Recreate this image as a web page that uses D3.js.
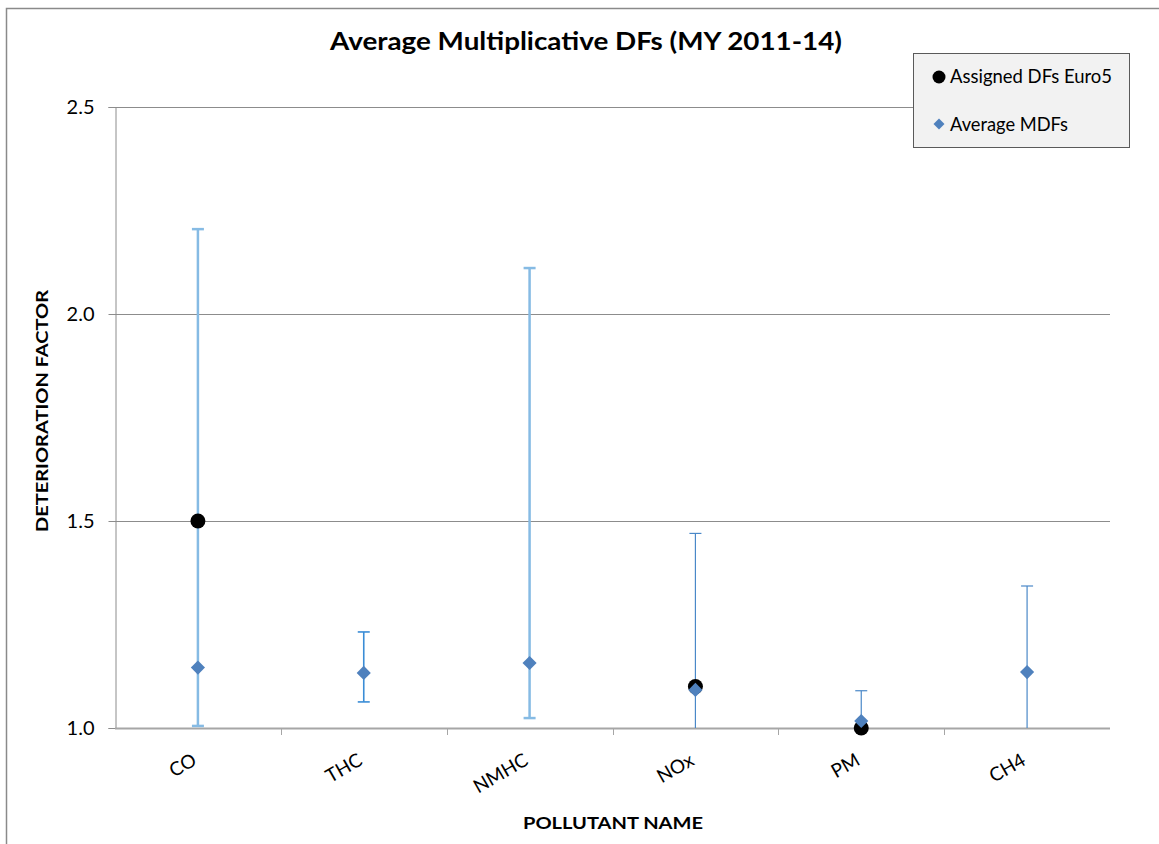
<!DOCTYPE html>
<html>
<head>
<meta charset="utf-8">
<title>Average Multiplicative DFs</title>
<script src="https://d3js.org/d3.v7.min.js"></script>
<style>
  body { margin: 0; background: #fff; }
  svg text { font-family: Lato, "Open Sans", "Noto Sans", sans-serif; fill: #000; }
</style>
</head>
<body>
<div id="chart"></div>
<script>
// data
var pollutants = ["CO", "THC", "NMHC", "NOx", "PM", "CH4"];
var assignedDF = [1.5, null, null, 1.1, 1.0, null];           // Assigned DFs Euro5
var averageMDF = [1.146, 1.133, 1.157, 1.092, 1.017, 1.135];  // Average MDFs
var errHigh    = [2.205, 1.232, 2.111, 1.47, 1.09, 1.343];
var errLow     = [1.005, 1.063, 1.024, 1.0, 1.0, 1.0];
var yTicks     = [1.0, 1.5, 2.0, 2.5];

// error bar look per category (the original chart mixes two styles)
var errStyle = {
  CO:   { stroke: "#86bbe4", width: 2.5 },
  THC:  { stroke: "#3a8cd6", width: 1.6 },
  NMHC: { stroke: "#86bbe4", width: 2.5 },
  NOx:  { stroke: "#4a88c8", width: 1.2 },
  PM:   { stroke: "#4a88c8", width: 1.2 },
  CH4:  { stroke: "#4a88c8", width: 1.2 }
};

var W = 1159, H = 844;
var svg = d3.select("#chart").append("svg").attr("width", W).attr("height", H);

// outer chart border (runs off the right and bottom of the picture)
svg.append("rect").attr("x", 6.5).attr("y", 8.5).attr("width", W + 20).attr("height", H + 20)
  .attr("fill", "#fff").attr("stroke", "#8a8a8a").attr("stroke-width", 1.5);

var x = d3.scaleBand().domain(pollutants).range([115, 1110]);
var y = d3.scaleLinear().domain([1.0, 2.5]).range([728, 107]);

// gridlines
svg.append("g").selectAll("line").data(yTicks.slice(1)).enter().append("line")
  .attr("x1", 115).attr("x2", 1110)
  .attr("y1", function(d){ return Math.round(y(d)) + 0.5; })
  .attr("y2", function(d){ return Math.round(y(d)) + 0.5; })
  .attr("stroke", "#8c8c8c").attr("stroke-width", 1);

// y axis
var yAxis = svg.append("g").attr("transform", "translate(115.5,0)")
  .call(d3.axisLeft(y).tickValues(yTicks).tickFormat(d3.format(".1f")).tickSize(7).tickPadding(14));
yAxis.select(".domain").attr("stroke", "#8c8c8c");
yAxis.selectAll(".tick line").attr("stroke", "#8c8c8c");
yAxis.selectAll(".tick text").style("font-size", "20px").attr("fill", "#000");

// x axis with ticks on category boundaries
var xAxis = svg.append("g").attr("transform", "translate(0,728)");
xAxis.append("line").attr("x1", 115).attr("x2", 1110).attr("y1", 0.5).attr("y2", 0.5)
  .attr("stroke", "#a6a6a6").attr("stroke-width", 2);
xAxis.selectAll("line.bnd").data(pollutants.slice(1)).enter().append("line")
  .attr("class", "bnd")
  .attr("x1", function(d){ return Math.round(x(d)) + 0.5; })
  .attr("x2", function(d){ return Math.round(x(d)) + 0.5; })
  .attr("y1", 0).attr("y2", 7).attr("stroke", "#a6a6a6");
xAxis.selectAll("text").data(pollutants).enter().append("text")
  .attr("transform", function(d){ return "translate(" + (x(d) + x.bandwidth() / 2) + ",36) rotate(-30)"; })
  .attr("text-anchor", "end")
  .style("font-size", "19px")
  .text(function(d){ return d; });

// error bars
var eb = svg.append("g").selectAll("g").data(pollutants).enter().append("g");
eb.append("line")
  .attr("x1", function(d){ return x(d) + x.bandwidth() / 2; })
  .attr("x2", function(d){ return x(d) + x.bandwidth() / 2; })
  .attr("y1", function(d, i){ return y(errHigh[i]); })
  .attr("y2", function(d, i){ return y(errLow[i]); })
  .attr("stroke", function(d){ return errStyle[d].stroke; })
  .attr("stroke-width", function(d){ return errStyle[d].width; });
eb.append("line")
  .attr("x1", function(d){ return x(d) + x.bandwidth() / 2 - 6; })
  .attr("x2", function(d){ return x(d) + x.bandwidth() / 2 + 6; })
  .attr("y1", function(d, i){ return y(errHigh[i]); })
  .attr("y2", function(d, i){ return y(errHigh[i]); })
  .attr("stroke", function(d){ return errStyle[d].stroke; })
  .attr("stroke-width", function(d){ return errStyle[d].width; });
eb.filter(function(d, i){ return errLow[i] > 1.0; }).append("line")
  .attr("x1", function(d){ return x(d) + x.bandwidth() / 2 - 6; })
  .attr("x2", function(d){ return x(d) + x.bandwidth() / 2 + 6; })
  .attr("y1", function(d){ return y(errLow[pollutants.indexOf(d)]); })
  .attr("y2", function(d){ return y(errLow[pollutants.indexOf(d)]); })
  .attr("stroke", function(d){ return errStyle[d].stroke; })
  .attr("stroke-width", function(d){ return errStyle[d].width; });

// assigned DFs (black circles)
svg.append("g").selectAll("circle")
  .data(pollutants.filter(function(d, i){ return assignedDF[i] != null; }))
  .enter().append("circle")
  .attr("cx", function(d){ return x(d) + x.bandwidth() / 2; })
  .attr("cy", function(d){ return y(assignedDF[pollutants.indexOf(d)]); })
  .attr("r", 7.5).attr("fill", "#000");

// average MDFs (blue diamonds)
var diamond = d3.symbol().type(d3.symbolSquare).size(100);
svg.append("g").selectAll("path").data(pollutants).enter().append("path")
  .attr("d", diamond)
  .attr("transform", function(d, i){ return "translate(" + (x(d) + x.bandwidth() / 2) + "," + y(averageMDF[i]) + ") rotate(45)"; })
  .attr("fill", "#4f81bd");

// title and axis titles
svg.append("text").attr("x", 586).attr("y", 50).attr("text-anchor", "middle")
  .style("font-size", "24px").style("font-weight", "bold")
  .attr("textLength", 512).attr("lengthAdjust", "spacingAndGlyphs")
  .text("Average Multiplicative DFs (MY 2011-14)");
svg.append("text").attr("transform", "translate(48,411) rotate(-90)").attr("text-anchor", "middle")
  .style("font-size", "17px").style("font-weight", "bold")
  .attr("textLength", 242).attr("lengthAdjust", "spacingAndGlyphs")
  .text("DETERIORATION FACTOR");
svg.append("text").attr("x", 613).attr("y", 829).attr("text-anchor", "middle")
  .style("font-size", "17px").style("font-weight", "bold")
  .attr("textLength", 180).attr("lengthAdjust", "spacingAndGlyphs")
  .text("POLLUTANT NAME");

// legend
var lg = svg.append("g").attr("transform", "translate(913,53)");
lg.append("rect").attr("x", 0.5).attr("y", 0.5).attr("width", 216).attr("height", 94)
  .attr("fill", "#f2f2f2").attr("stroke", "#5a5a5a");
lg.append("circle").attr("cx", 26).attr("cy", 24).attr("r", 6.5).attr("fill", "#000");
lg.append("text").attr("x", 37).attr("y", 30).style("font-size", "19px")
  .attr("textLength", 162).attr("lengthAdjust", "spacingAndGlyphs").text("Assigned DFs Euro5");
lg.append("path").attr("d", d3.symbol().type(d3.symbolSquare).size(60))
  .attr("transform", "translate(26,71) rotate(45)").attr("fill", "#4f81bd");
lg.append("text").attr("x", 37).attr("y", 78).style("font-size", "19px")
  .attr("textLength", 118).attr("lengthAdjust", "spacingAndGlyphs").text("Average MDFs");
</script>
</body>
</html>
